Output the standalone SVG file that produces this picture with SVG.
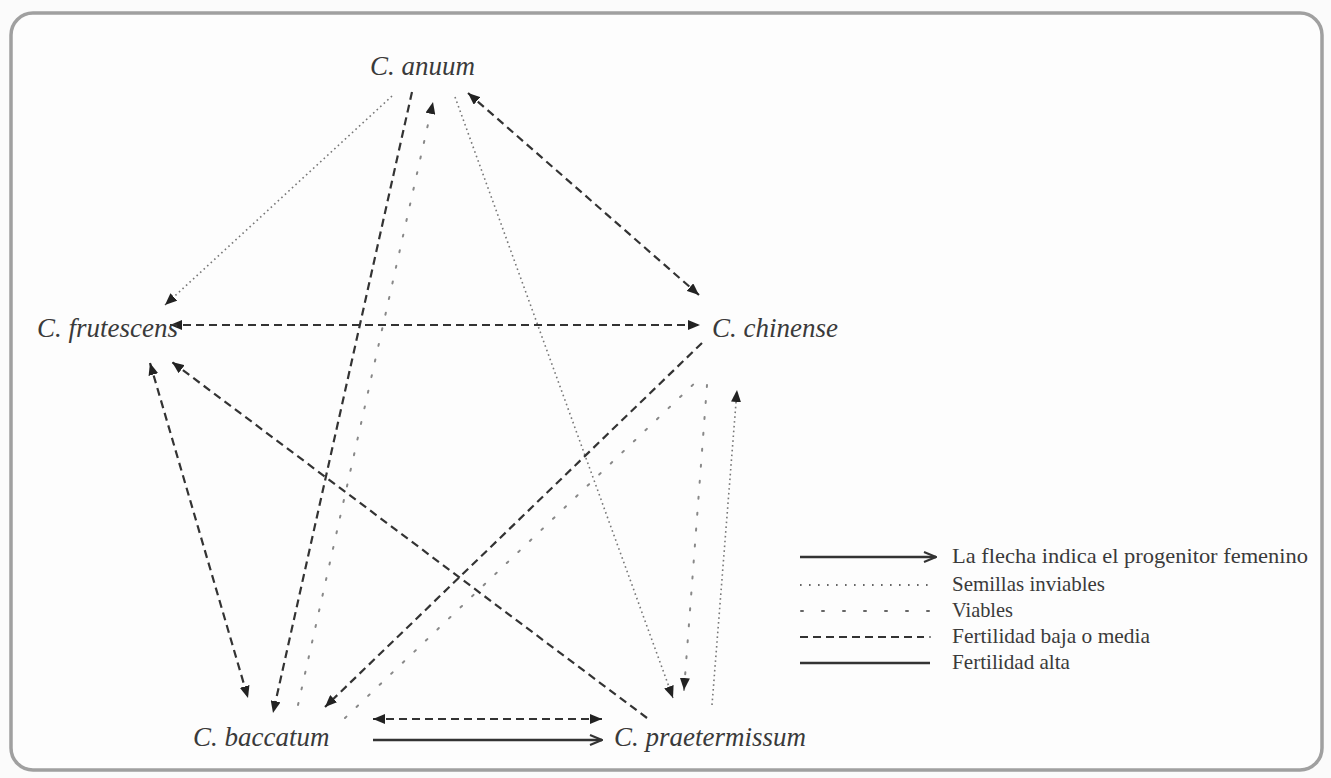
<svg xmlns="http://www.w3.org/2000/svg" width="1331" height="778" viewBox="0 0 1331 778">
<style>
.node{font-family:"Liberation Serif","Times New Roman",serif;font-style:italic;font-size:27px;fill:#3a3a3a}
.leg{font-family:"Liberation Serif","Times New Roman",serif;font-size:21px;fill:#3a3a3a}
.dash{fill:none;stroke:#333;stroke-width:2.2;stroke-dasharray:8 5}
.inv{fill:none;stroke:#777;stroke-width:1.6;stroke-dasharray:1.6 3.2}
.via{fill:none;stroke:#888;stroke-width:2;stroke-dasharray:2 14;stroke-linecap:round}
.solid{fill:none;stroke:#333;stroke-width:2.6}
</style>
<defs>
<marker id="tri" viewBox="0 0 12 10" refX="12" refY="5" markerWidth="12" markerHeight="10" markerUnits="userSpaceOnUse" orient="auto-start-reverse">
<path d="M0,0 L12,5 L0,10 z" fill="#222"/>
</marker>
<marker id="chev" viewBox="0 0 14 12" refX="13" refY="6" markerWidth="14" markerHeight="12" markerUnits="userSpaceOnUse" orient="auto">
<path d="M1,1 L13,6 L1,11" fill="none" stroke="#333" stroke-width="2"/>
</marker>
</defs>
<rect x="0" y="0" width="1331" height="778" fill="#fbfbfb"/>
<rect x="11" y="13" width="1311" height="757" rx="22" ry="22" fill="#fdfdfd" stroke="#a0a0a0" stroke-width="3.5"/>

<g id="connectors">
<path class="inv" d="M392,96 L165,305" marker-end="url(#tri)"/>
<path class="dash" d="M412,92 L273,713" marker-end="url(#tri)"/>
<path class="via" d="M298,705 L433,102" marker-end="url(#tri)"/>
<path class="dash" d="M468,93 L699,295" marker-start="url(#tri)" marker-end="url(#tri)"/>
<path class="inv" d="M455,97 L673,698" marker-end="url(#tri)"/>
<path class="dash" d="M170,325 L700,325" marker-start="url(#tri)" marker-end="url(#tri)"/>
<path class="dash" d="M150,363 L248,698" marker-start="url(#tri)" marker-end="url(#tri)"/>
<path class="dash" d="M647,718 L172,362" marker-end="url(#tri)"/>
<path class="dash" d="M702,343 L325,707" marker-end="url(#tri)"/>
<path class="via" d="M345,718 L700,378"/>
<path class="via" d="M707,385 L684,690" marker-end="url(#tri)"/>
<path class="inv" d="M712,705 L737,390" marker-end="url(#tri)"/>
<path class="dash" d="M373,719 L602,719" marker-start="url(#tri)" marker-end="url(#tri)"/>
<path class="solid" d="M373,740 L602,740" marker-end="url(#chev)"/>
</g>

<g id="node-anuum"><text class="node" x="370" y="75">C. anuum</text></g>
<g id="node-frutescens"><text class="node" x="37" y="337">C. frutescens</text></g>
<g id="node-chinense"><text class="node" x="712" y="337">C. chinense</text></g>
<g id="node-baccatum"><text class="node" x="193" y="746">C. baccatum</text></g>
<g id="node-praetermissum"><text class="node" x="614" y="746">C. praetermissum</text></g>

<g id="legend">
<path class="solid" d="M800,557 L936,557" marker-end="url(#chev)"/>
<text class="leg" x="952" y="563" textLength="356" lengthAdjust="spacingAndGlyphs">La flecha indica el progenitor femenino</text>
<path d="M800,585 L930,585" fill="none" stroke="#666" stroke-width="1.8" stroke-dasharray="1.6 7.4"/>
<text class="leg" x="952" y="591" textLength="153" lengthAdjust="spacingAndGlyphs">Semillas inviables</text>
<path d="M801,611 L930,611" fill="none" stroke="#666" stroke-width="2" stroke-dasharray="2 19" stroke-linecap="round"/>
<text class="leg" x="952" y="617" textLength="61" lengthAdjust="spacingAndGlyphs">Viables</text>
<path class="dash" d="M800,637 L924,637"/>
<circle cx="930" cy="637" r="1" fill="#666"/>
<text class="leg" x="952" y="643" textLength="198" lengthAdjust="spacingAndGlyphs">Fertilidad baja o media</text>
<path class="solid" d="M800,663 L930,663"/>
<text class="leg" x="952" y="669" textLength="118" lengthAdjust="spacingAndGlyphs">Fertilidad alta</text>
</g>
</svg>
